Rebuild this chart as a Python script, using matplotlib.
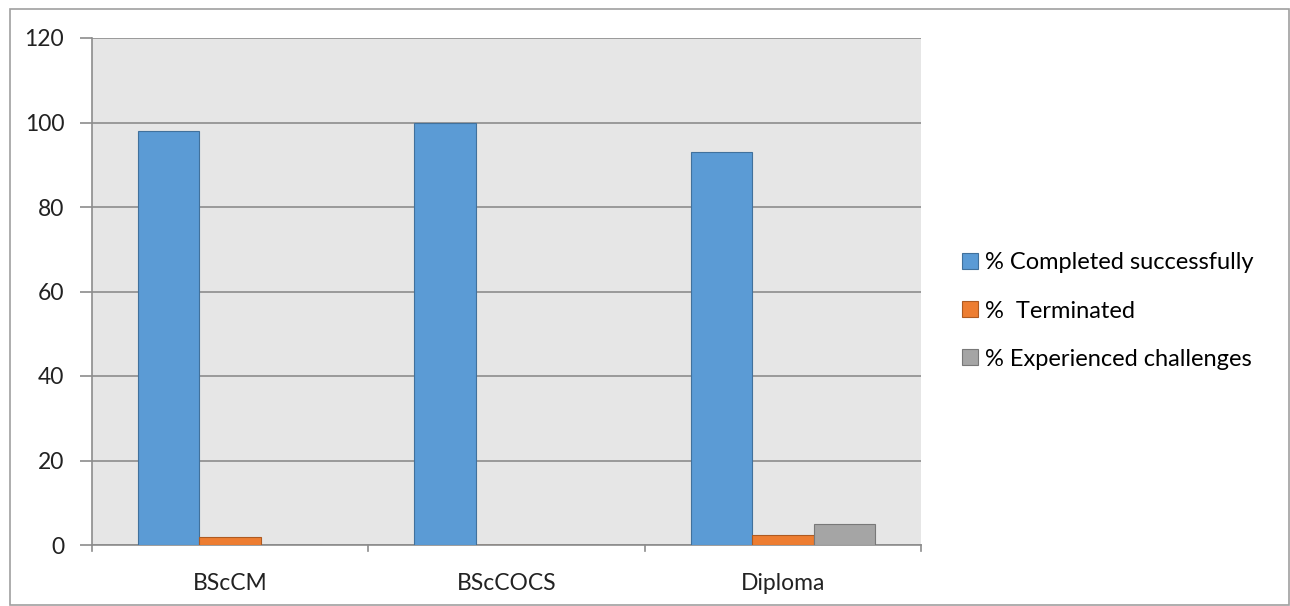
import numpy as np
import matplotlib
matplotlib.use("Agg")
import matplotlib.pyplot as plt
from matplotlib.patches import Rectangle

plt.rcParams["font.family"] = ["Lato", "DejaVu Sans"]

programmes = ["BScCM", "BScCOCS", "Diploma"]
series_names = ["% Completed successfully", "%  Terminated", "% Experienced challenges"]
completed = [98, 100, 93]
terminated = [2, 0, 2.3]
challenges = [0, 0, 5]
y_ticks = [0, 20, 40, 60, 80, 100, 120]

fills = ["#5B9BD5", "#ED7D31", "#A5A5A5"]
edges = ["#41719C", "#AE5A21", "#787878"]

W, H = 1290, 606
fig = plt.figure(figsize=(W / 100, H / 100), dpi=100)
# outer chart frame
fig.patches.append(Rectangle((10 / W, 1 - 605 / H), 1279 / W, 596 / H,
                             transform=fig.transFigure, fill=False,
                             edgecolor="#A0A0A0", lw=1.2))

ax = fig.add_axes([92 / W, 1 - 545 / H, (921 - 92) / W, (545 - 38) / H])
ax.set_facecolor("#E6E6E6")

x = np.arange(len(programmes))
bw = 1 / 4.5
for i, vals in enumerate([completed, terminated, challenges]):
    ax.bar(x + (i - 1) * bw, vals, width=bw, color=fills[i], edgecolor=edges[i],
           lw=0.8, label=series_names[i], zorder=3)

ax.set_xlim(-0.5, 2.5)
ax.set_ylim(0, 120)
ax.set_yticks(y_ticks)
ax.set_yticklabels([str(v) for v in y_ticks], fontsize=16.5, color="#222222")
ax.yaxis.grid(True, color="#8C8C8C", lw=1.2, zorder=1)
ax.set_xticks(x)
ax.set_xticklabels(programmes, fontsize=16.5, color="#222222")
ax.tick_params(axis="x", length=0, pad=20)
ax.tick_params(axis="y", length=9, color="#8C8C8C", width=1.2, pad=11)
# category boundary ticks below the axis
for b in [-0.5, 0.5, 1.5, 2.5]:
    ax.plot([b, b], [0, -1.5], color="#8C8C8C", lw=1.2, clip_on=False, zorder=4)

for side in ["top", "right"]:
    ax.spines[side].set_visible(False)
ax.spines["left"].set_color("#8C8C8C")
ax.spines["left"].set_linewidth(1.2)
ax.spines["bottom"].set_color("#8C8C8C")
ax.spines["bottom"].set_linewidth(1.2)

fig.legend(loc="center left", bbox_to_anchor=(941 / W, 1 - 311 / H), frameon=False,
           fontsize=17, handlelength=0.65, handleheight=0.65, handletextpad=0.3,
           labelspacing=1.15)

fig.savefig("out.png", dpi=100)
